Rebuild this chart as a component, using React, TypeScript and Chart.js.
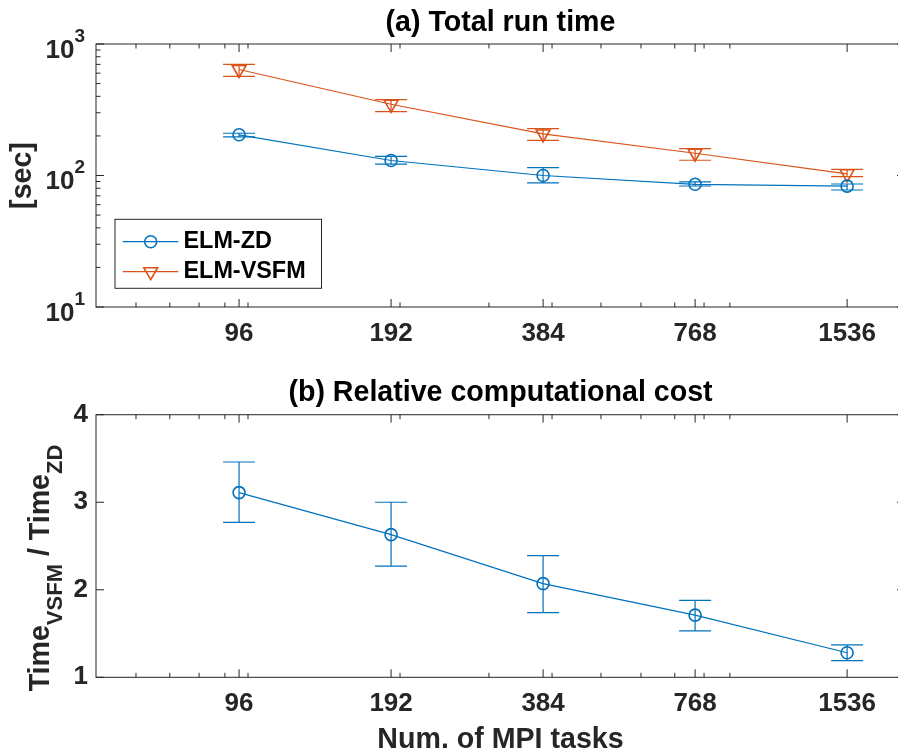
import React, { useEffect, useRef } from "react";
import { Chart, registerables } from "chart.js";

Chart.register(...registerables);

// ---------- data ----------
const tasks = [96, 192, 384, 768, 1536];
const xTickLabels = ["96", "192", "384", "768", "1536"];
const xMinorTicks = [60, 70, 80, 90, 100, 200, 300, 400, 500, 600, 700, 800, 900];

const zdTime = [204, 130, 100, 85.7, 83];
const zdLow = [197, 122, 88, 83.2, 77.6];
const zdHigh = [209.6, 140, 114.6, 89.4, 86.2];

const vsfmTime = [640, 348, 207, 147.6, 103];
const vsfmLow = [568, 306, 185, 130.6, 98];
const vsfmHigh = [701, 377, 227, 160, 111.4];

const ratio = [3.11, 2.63, 2.07, 1.71, 1.28];
const ratioLow = [2.77, 2.27, 1.74, 1.53, 1.19];
const ratioHigh = [3.46, 3.0, 2.39, 1.88, 1.37];

const timeTicks = [10, 100, 1000];
const timeTickBase = ["10", "10", "10"];
const timeTickExp = ["1", "2", "3"];
const timeMinorTicks = [20, 30, 40, 50, 60, 70, 80, 90, 200, 300, 400, 500, 600, 700, 800, 900];
const ratioTicks = [1, 2, 3, 4];

const seriesNames = ["ELM-ZD", "ELM-VSFM"];

// ---------- styles ----------
const FONT = "'Liberation Sans', Arial, Helvetica, sans-serif";
const BLUE = "#0072BD";
const ORANGE = "#D95319";
const AXIS = "#262626";

type ErrSpec = { low: number[]; high: number[]; color: string };

function axesPlugin(id: string, yMajor: number[], yMinor: number[]) {
  return {
    id,
    beforeDatasetsDraw(chart: any) {
      const { ctx, chartArea, scales } = chart;
      const { left, right, top, bottom } = chartArea;
      const x = scales.x;
      const y = scales.y;
      ctx.save();
      ctx.strokeStyle = AXIS;
      ctx.lineWidth = 1;
      ctx.strokeRect(left, top, right - left, bottom - top);
      const seg = (x1: number, y1: number, x2: number, y2: number) => {
        ctx.beginPath();
        ctx.moveTo(x1, y1);
        ctx.lineTo(x2, y2);
        ctx.stroke();
      };
      const maj = 8;
      const min = 4.5;
      tasks.forEach((v) => {
        const px = x.getPixelForValue(v);
        seg(px, bottom, px, bottom - maj);
        seg(px, top, px, top + maj);
      });
      xMinorTicks.forEach((v) => {
        const px = x.getPixelForValue(v);
        seg(px, bottom, px, bottom - min);
        seg(px, top, px, top + min);
      });
      yMajor.forEach((v) => {
        const py = y.getPixelForValue(v);
        seg(left, py, left + maj, py);
        seg(right, py, right - maj, py);
      });
      yMinor.forEach((v) => {
        const py = y.getPixelForValue(v);
        seg(left, py, left + min, py);
        seg(right, py, right - min, py);
      });
      ctx.restore();
    },
  };
}

function errorBarPlugin(id: string, specs: ErrSpec[]) {
  return {
    id,
    beforeDatasetsDraw(chart: any) {
      const { ctx, scales } = chart;
      const x = scales.x;
      const y = scales.y;
      const cap = 16;
      ctx.save();
      ctx.lineWidth = 1.2;
      specs.forEach((s) => {
        ctx.strokeStyle = s.color;
        tasks.forEach((t, i) => {
          const px = x.getPixelForValue(t);
          const pl = y.getPixelForValue(s.low[i]);
          const ph = y.getPixelForValue(s.high[i]);
          ctx.beginPath();
          ctx.moveTo(px, pl);
          ctx.lineTo(px, ph);
          ctx.moveTo(px - cap, pl);
          ctx.lineTo(px + cap, pl);
          ctx.moveTo(px - cap, ph);
          ctx.lineTo(px + cap, ph);
          ctx.stroke();
        });
      });
      ctx.restore();
    },
  };
}

const topLabelsPlugin = {
  id: "topLabels",
  afterDraw(chart: any) {
    const { ctx, chartArea, scales } = chart;
    const y = scales.y;
    ctx.save();
    ctx.fillStyle = AXIS;
    // y tick labels with superscripts
    const rightEdge = chartArea.left - 11;
    timeTicks.forEach((v, i) => {
      const py = y.getPixelForValue(v);
      ctx.font = `bold 19px ${FONT}`;
      ctx.textAlign = "right";
      ctx.textBaseline = "alphabetic";
      const supW = ctx.measureText(timeTickExp[i]).width;
      ctx.fillText(timeTickExp[i], rightEdge, py - 2.1);
      ctx.font = `bold 26px ${FONT}`;
      ctx.fillText(timeTickBase[i], rightEdge - supW, py + 13.8);
    });
    // y axis title
    const cy = (chartArea.top + chartArea.bottom) / 2;
    ctx.translate(30.7, cy);
    ctx.rotate(-Math.PI / 2);
    ctx.font = `bold 28.6px ${FONT}`;
    ctx.textAlign = "center";
    ctx.textBaseline = "alphabetic";
    ctx.fillText("[sec]", 0, 0);
    ctx.restore();

    // legend
    const lx = chartArea.left + 19;
    const ly = chartArea.bottom - 87.7;
    const lw = 206.5;
    const lh = 69;
    ctx.save();
    ctx.fillStyle = "#fff";
    ctx.fillRect(lx, ly, lw, lh);
    ctx.strokeStyle = AXIS;
    ctx.lineWidth = 1;
    ctx.strokeRect(lx, ly, lw, lh);
    const colors = [BLUE, ORANGE];
    seriesNames.forEach((name, i) => {
      const ry = ly + 22.4 + i * 30;
      ctx.strokeStyle = colors[i];
      ctx.lineWidth = 1.2;
      ctx.beginPath();
      ctx.moveTo(lx + 7.7, ry);
      ctx.lineTo(lx + 63.3, ry);
      ctx.stroke();
      const mx = lx + 35.7;
      ctx.lineWidth = 1.6;
      ctx.beginPath();
      if (i === 0) {
        ctx.arc(mx, ry, 6, 0, Math.PI * 2);
      } else {
        const r = 8;
        ctx.moveTo(mx, ry + r);
        ctx.lineTo(mx - 0.866 * r, ry - 0.5 * r);
        ctx.lineTo(mx + 0.866 * r, ry - 0.5 * r);
        ctx.closePath();
      }
      ctx.stroke();
      ctx.fillStyle = "#000";
      ctx.font = `bold 23.4px ${FONT}`;
      ctx.textAlign = "left";
      ctx.textBaseline = "middle";
      ctx.fillText(name, lx + 68.5, ry);
    });
    ctx.restore();
  },
};

const botLabelsPlugin = {
  id: "botLabels",
  afterDraw(chart: any) {
    const { ctx, chartArea } = chart;
    const parts: { t: string; sub: boolean }[] = [
      { t: "Time", sub: false },
      { t: "VSFM", sub: true },
      { t: " / Time", sub: false },
      { t: "ZD", sub: true },
    ];
    const mainFont = `bold 28.6px ${FONT}`;
    const subFont = `bold 22px ${FONT}`;
    ctx.save();
    let total = 0;
    parts.forEach((p) => {
      ctx.font = p.sub ? subFont : mainFont;
      total += ctx.measureText(p.t).width;
    });
    const cy = (chartArea.top + chartArea.bottom) / 2 + 22;
    ctx.translate(48.5, cy + total / 2);
    ctx.rotate(-Math.PI / 2);
    ctx.fillStyle = AXIS;
    ctx.textAlign = "left";
    ctx.textBaseline = "alphabetic";
    let pos = 0;
    parts.forEach((p) => {
      ctx.font = p.sub ? subFont : mainFont;
      ctx.fillText(p.t, pos, p.sub ? 13.5 : 0);
      pos += ctx.measureText(p.t).width;
    });
    ctx.restore();
  },
};

const tickFont = { family: FONT, size: 26, weight: "bold" as const, lineHeight: 1.2 };
const titleFont = { family: FONT, size: 28.6, weight: "bold" as const, lineHeight: 1.2 };

function xScale(height: number, withTitle: boolean) {
  return {
    type: "logarithmic" as const,
    min: 50,
    max: 2000,
    afterBuildTicks: (s: any) => {
      s.ticks = tasks.map((v) => ({ value: v }));
    },
    afterFit: (s: any) => {
      s.height = height;
    },
    grid: { display: false, drawTicks: false },
    border: { display: false },
    ticks: {
      autoSkip: false,
      maxRotation: 0,
      minRotation: 0,
      padding: 11,
      color: AXIS,
      font: tickFont,
      callback: (v: any) => {
        const i = tasks.indexOf(Number(v));
        return i >= 0 ? xTickLabels[i] : "";
      },
    },
    title: withTitle
      ? {
          display: true,
          text: "Num. of MPI tasks",
          color: AXIS,
          font: { family: FONT, size: 28.6, weight: "bold" as const, lineHeight: 1 },
          padding: { top: 0, bottom: 1 },
        }
      : { display: false },
  };
}

function makeDataset(label: string, values: number[], color: string, style: string, radius: number, rotation: number) {
  return {
    label,
    data: tasks.map((t, i) => ({ x: t, y: values[i] })),
    borderColor: color,
    borderWidth: 1.2,
    backgroundColor: color,
    pointStyle: style,
    pointRadius: radius,
    pointRotation: rotation,
    pointBorderWidth: 1.6,
    pointBorderColor: color,
    pointBackgroundColor: "rgba(0,0,0,0)",
    tension: 0,
    fill: false,
  };
}

export default function App() {
  const topRef = useRef<HTMLCanvasElement>(null);
  const botRef = useRef<HTMLCanvasElement>(null);

  useEffect(() => {
    const top = new Chart(topRef.current as HTMLCanvasElement, {
      type: "line",
      data: {
        datasets: [
          makeDataset(seriesNames[0], zdTime, BLUE, "circle", 6, 0),
          makeDataset(seriesNames[1], vsfmTime, ORANGE, "triangle", 8, 180),
        ] as any,
      },
      options: {
        responsive: false,
        animation: false,
        events: [],
        layout: { autoPadding: false, padding: { left: 0, right: 1, top: 0, bottom: 0 } },
        plugins: {
          legend: { display: false },
          tooltip: { enabled: false },
          title: {
            display: true,
            text: "(a) Total run time",
            fullSize: false,
            color: "#000",
            font: titleFont,
            padding: { top: 6, bottom: 3.68 },
          },
        },
        scales: {
          x: xScale(63, false) as any,
          y: {
            type: "logarithmic",
            min: 10,
            max: 1000,
            afterBuildTicks: (s: any) => {
              s.ticks = timeTicks.map((v) => ({ value: v }));
            },
            afterFit: (s: any) => {
              s.width = 96;
            },
            grid: { display: false, drawTicks: false },
            border: { display: false },
            ticks: { display: false },
          },
        },
      },
      plugins: [
        axesPlugin("axesTop", timeTicks, timeMinorTicks),
        errorBarPlugin("errTop", [
          { low: zdLow, high: zdHigh, color: BLUE },
          { low: vsfmLow, high: vsfmHigh, color: ORANGE },
        ]),
        topLabelsPlugin,
      ],
    });

    const bot = new Chart(botRef.current as HTMLCanvasElement, {
      type: "line",
      data: {
        datasets: [makeDataset("ratio", ratio, BLUE, "circle", 6, 0)] as any,
      },
      options: {
        responsive: false,
        animation: false,
        events: [],
        layout: { autoPadding: false, padding: { left: 0, right: 1, top: 0, bottom: 0 } },
        plugins: {
          legend: { display: false },
          tooltip: { enabled: false },
          title: {
            display: true,
            text: "(b) Relative computational cost",
            fullSize: false,
            color: "#000",
            font: titleFont,
            padding: { top: 6, bottom: 4.4 },
          },
        },
        scales: {
          x: xScale(77.7, true) as any,
          y: {
            type: "linear",
            min: 1,
            max: 4,
            afterBuildTicks: (s: any) => {
              s.ticks = ratioTicks.map((v) => ({ value: v }));
            },
            afterFit: (s: any) => {
              s.width = 96;
            },
            grid: { display: false, drawTicks: false },
            border: { display: false },
            ticks: {
              padding: 8,
              color: AXIS,
              font: tickFont,
              callback: (v: any) => String(v),
            },
          },
        },
      },
      plugins: [
        axesPlugin("axesBot", ratioTicks, []),
        errorBarPlugin("errBot", [{ low: ratioLow, high: ratioHigh, color: BLUE }]),
        botLabelsPlugin,
      ],
    });

    return () => {
      top.destroy();
      bot.destroy();
    };
  }, []);

  return (
    <div
      style={{
        position: "fixed",
        left: 0,
        top: 0,
        width: 898,
        height: 755,
        overflow: "hidden",
        background: "#fff",
      }}
    >
      <canvas
        ref={topRef}
        width={906}
        height={370}
        style={{ position: "absolute", left: 0, top: 0, width: 906, height: 370 }}
      />
      <canvas
        ref={botRef}
        width={906}
        height={385}
        style={{ position: "absolute", left: 0, top: 370, width: 906, height: 385 }}
      />
    </div>
  );
}
